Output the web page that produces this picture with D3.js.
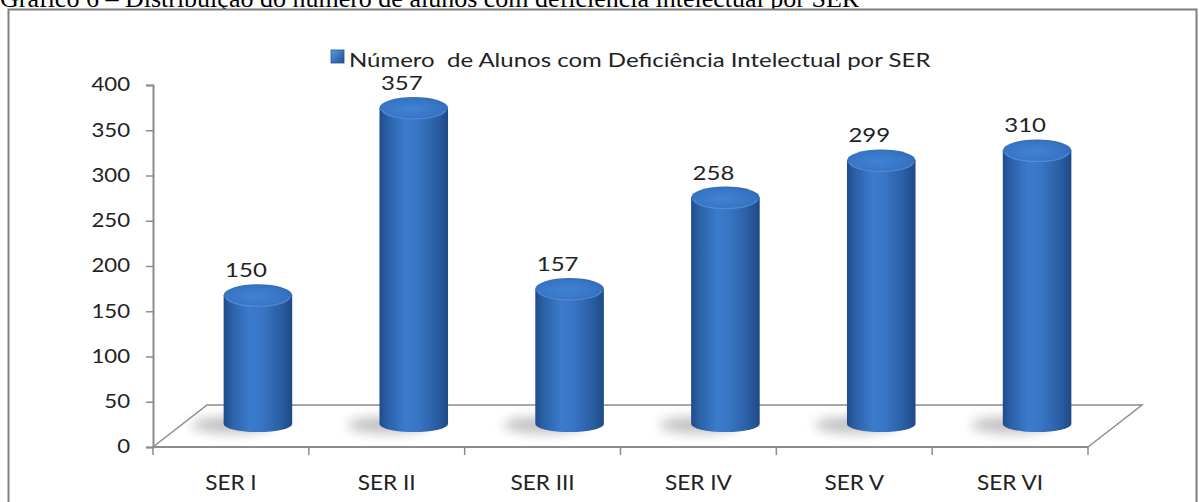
<!DOCTYPE html>
<html>
<head>
<meta charset="utf-8">
<script src="https://cdn.jsdelivr.net/npm/d3@7"></script>
<style>
  html, body { margin: 0; padding: 0; background: #fff; }
  svg { display: block; }
</style>
</head>
<body>
<svg id="chart" width="1199" height="502"></svg>
<script>
const titleText = "Gráfico 6 – Distribuição do número de alunos com deficiência intelectual por SER";
const legendLabel = "Número  de Alunos com Deficiência Intelectual por SER";
const categories = ["SER I", "SER II", "SER III", "SER IV", "SER V", "SER VI"];
const values = [150, 357, 157, 258, 299, 310];
const yTicks = [0, 50, 100, 150, 200, 250, 300, 350, 400];

const svg = d3.select("#chart");
const font = "Lato, 'Open Sans', sans-serif";
const stretch = 1.2; // the original chart is stretched horizontally

// depth of 3D floor
const depthX = 54, depthY = -42;

const x = d3.scaleBand().domain(categories).range([153, 1088]).padding(0);
const y = d3.scaleLinear().domain([0, 400]).range([447, 85]);

const defs = svg.append("defs");
const cyl = defs.append("linearGradient").attr("id", "cyl").attr("x1", "0").attr("x2", "1").attr("y1", "0").attr("y2", "0");
[["0%", "#1f4c89"], ["12%", "#2b61a8"], ["38%", "#3b7bcc"], ["55%", "#3876c5"], ["82%", "#2b5fa5"], ["100%", "#1e4a86"]]
  .forEach(([o, c]) => cyl.append("stop").attr("offset", o).attr("stop-color", c));
const topG = defs.append("radialGradient").attr("id", "topg").attr("cx", "45%").attr("cy", "55%").attr("r", "65%");
[["0%", "#4083d4"], ["70%", "#3774c3"], ["100%", "#2c63ac"]]
  .forEach(([o, c]) => topG.append("stop").attr("offset", o).attr("stop-color", c));
const blur = defs.append("filter").attr("id", "blur").attr("x", "-50%").attr("y", "-100%").attr("width", "200%").attr("height", "300%");
blur.append("feGaussianBlur").attr("stdDeviation", 6);
const leg = defs.append("linearGradient").attr("id", "leg").attr("x1", "0").attr("x2", "1").attr("y1", "0").attr("y2", "1");
[["0%", "#5b9be6"], ["100%", "#1f4f92"]].forEach(([o, c]) => leg.append("stop").attr("offset", o).attr("stop-color", c));

// page title (clipped at top, as in the original scan)
svg.append("text").attr("x", 0).attr("y", 7)
  .attr("font-family", "'Liberation Serif', 'Times New Roman', serif")
  .attr("font-size", 26).attr("fill", "#000").text(titleText);

// frame
svg.append("rect").attr("x", 8.5).attr("y", 9.5).attr("width", 1188).attr("height", 520)
  .attr("fill", "#fff").attr("stroke", "#7f7f7f").attr("stroke-width", 2);

const axisColor = "#8c8c8c";

// floor
const x0 = x.range()[0], x1 = x.range()[1], yb = y(0);
svg.append("path")
  .attr("d", `M${x0},${yb} L${x0 + depthX},${yb + depthY} L${x1 + depthX},${yb + depthY} L${x1},${yb}`)
  .attr("fill", "#fff").attr("stroke", axisColor).attr("stroke-width", 1.5);

// y axis
const yAxis = d3.axisLeft(y).tickValues(yTicks).tickSize(7).tickPadding(16);
const gy = svg.append("g").attr("transform", `translate(${x0},0)`).call(yAxis);
gy.select(".domain").attr("stroke", axisColor).attr("stroke-width", 2);
gy.selectAll(".tick line").attr("stroke", axisColor).attr("stroke-width", 1.5);
gy.selectAll(".tick text").attr("font-family", font).attr("font-size", 18.5).attr("fill", "#222")
  .attr("x", -23 / stretch).attr("transform", `scale(${stretch},1)`);

// x axis (front edge), ticks at category boundaries
svg.append("line").attr("x1", x0).attr("x2", x1).attr("y1", yb).attr("y2", yb)
  .attr("stroke", axisColor).attr("stroke-width", 2);
const bounds = categories.map(c => x(c)).concat([x1]);
svg.selectAll(".xt").data(bounds).enter().append("line")
  .attr("x1", d => d).attr("x2", d => d).attr("y1", yb).attr("y2", yb + 8)
  .attr("stroke", axisColor).attr("stroke-width", 1.5);
svg.selectAll(".xl").data(categories).enter().append("text")
  .attr("transform", d => `translate(${x(d) + x.bandwidth() / 2},490) scale(1.05,1)`)
  .attr("text-anchor", "middle").attr("font-family", font).attr("font-size", 21.5).attr("fill", "#222")
  .text(d => d);

// bars (cylinders)
const bw = x.bandwidth() * 0.44;
const rx = bw / 2, ryTop = 11, ryBot = 8;
const data = categories.map((c, i) => ({ c, v: values[i] }));
const cx = d => x(d.c) + x.bandwidth() / 2 + depthX / 2;
const baseY = yb + depthY / 2 - 2;
const topY = d => y(d.v) + depthY / 2 + 5;

const bars = svg.selectAll(".bar").data(data).enter().append("g");
// shadow
bars.append("ellipse").attr("cx", d => cx(d) - 26).attr("cy", baseY + 1)
  .attr("rx", rx + 6).attr("ry", 8).attr("fill", "#8a8a8a").attr("opacity", 0.55)
  .attr("filter", "url(#blur)");
// body
bars.append("path")
  .attr("d", d => {
    const c = cx(d), t = topY(d);
    return `M${c - rx},${t} L${c - rx},${baseY} A${rx},${ryBot} 0 0 0 ${c + rx},${baseY} L${c + rx},${t} Z`;
  })
  .attr("fill", "url(#cyl)");
// top
bars.append("ellipse").attr("cx", d => cx(d)).attr("cy", d => topY(d))
  .attr("rx", rx).attr("ry", ryTop).attr("fill", "url(#topg)");
bars.append("path")
  .attr("d", d => {
    const c = cx(d), t = topY(d);
    return `M${c - rx + 3},${t + 2} A${rx - 3},${ryTop - 2} 0 0 0 ${c + rx - 3},${t + 2}`;
  })
  .attr("fill", "none").attr("stroke", "#5f97de").attr("stroke-width", 1.2).attr("opacity", 0.7);

// value labels
bars.append("text")
  .attr("transform", d => `translate(${cx(d) - 12},${topY(d) - ryTop - 7}) scale(${stretch},1)`)
  .attr("text-anchor", "middle").attr("font-family", font).attr("font-size", 20).attr("fill", "#222")
  .text(d => d.v);

// legend
svg.append("rect").attr("x", 331).attr("y", 50).attr("width", 13).attr("height", 13)
  .attr("fill", "url(#leg)").attr("stroke", "#1f4f92").attr("stroke-width", 0.8);
svg.append("text").attr("transform", `translate(349,67) scale(${stretch},1)`)
  .attr("font-family", font).attr("font-size", 20)
  .attr("fill", "#222").attr("xml:space", "preserve").style("white-space", "pre").text(legendLabel);
</script>
</body>
</html>
